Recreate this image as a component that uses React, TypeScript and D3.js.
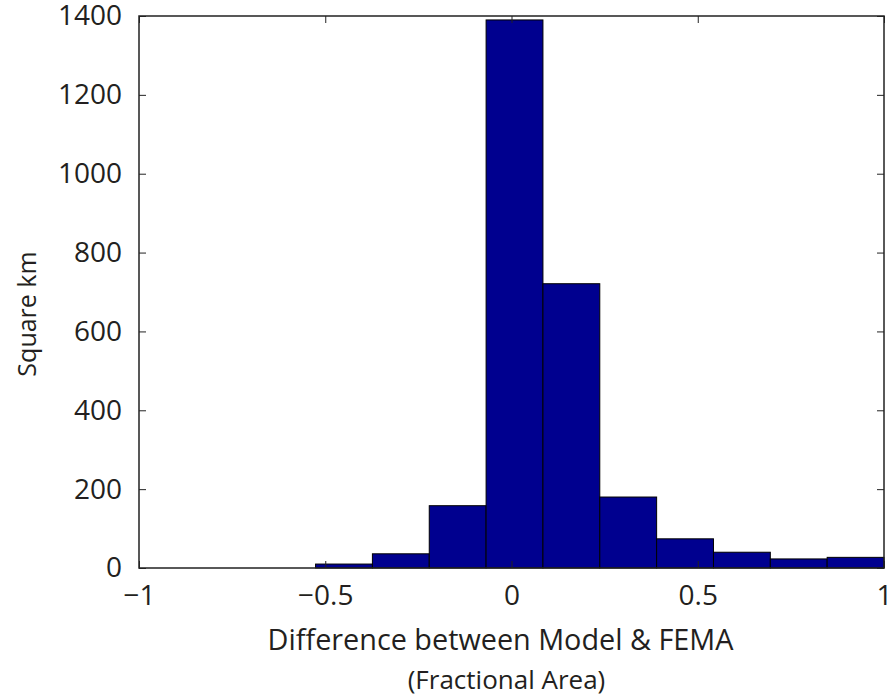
import React, { useEffect, useRef } from 'react';
import * as d3 from 'd3';

// histogram bin edges (fractional area difference) and area per bin
const binEdges = [-0.526, -0.3734, -0.2208, -0.0682, 0.0844, 0.237, 0.3896, 0.5422, 0.6948, 0.8474, 1.0];
const binValues = [10, 36, 158, 1390, 721, 180, 74, 40, 23, 27];
const xTicks = [-1, -0.5, 0, 0.5, 1];
const yTicks = [0, 200, 400, 600, 800, 1000, 1200, 1400];
const xLabelLines = ['Difference between Model & FEMA', '(Fractional Area)'];
const yLabel = 'Square km';

const App = () => {
  const chart = useRef<SVGSVGElement>(null);
  const width = 889;
  const height = 698;
  const margin = { top: 16, right: 5, bottom: 130, left: 139 };
  const font = '"Open Sans", sans-serif';
  const textColor = '#231f20';

  useEffect(() => {
    const svg = d3.select(chart.current);
    svg.selectAll('*').remove();

    const x = d3.scaleLinear()
      .domain([-1, 1])
      .range([margin.left, width - margin.right]);
    const y = d3.scaleLinear()
      .domain([0, 1400])
      .range([height - margin.bottom, margin.top]);

    const data = binValues.map((v, i) => ({ x0: binEdges[i], x1: binEdges[i + 1], v }));

    svg.append('g')
      .selectAll('rect')
      .data(data)
      .join('rect')
      .attr('x', d => x(d.x0))
      .attr('width', d => x(d.x1) - x(d.x0))
      .attr('y', d => y(d.v))
      .attr('height', d => y(0) - y(d.v))
      .attr('fill', '#00008f')
      .attr('stroke', '#000')
      .attr('stroke-width', 1);

    // box
    svg.append('rect')
      .attr('x', x(-1))
      .attr('y', y(1400))
      .attr('width', x(1) - x(-1))
      .attr('height', y(0) - y(1400))
      .attr('fill', 'none')
      .attr('stroke', '#222')
      .attr('stroke-width', 1.5);

    const styleAxis = g => g
      .call(g => g.select('.domain').remove())
      .call(g => g.selectAll('.tick line').attr('stroke', '#222').attr('stroke-width', 1))
      .call(g => g.selectAll('.tick text')
        .attr('font-family', font)
        .attr('font-size', 28)
        .attr('fill', textColor));

    // bottom (ticks inward)
    svg.append('g')
      .attr('transform', `translate(0,${y(0)})`)
      .call(d3.axisBottom(x).tickValues(xTicks).tickSizeInner(-7).tickSizeOuter(0).tickPadding(17)
        .tickFormat(d => d === 0 ? '0' : d3.format('.1~f')(d).replace('-', '\u2212')))
      .call(styleAxis);
    // top ticks
    svg.append('g')
      .attr('transform', `translate(0,${y(1400)})`)
      .call(d3.axisTop(x).tickValues(xTicks).tickSizeInner(-7).tickSizeOuter(0).tickFormat(() => ''))
      .call(styleAxis);
    // left
    svg.append('g')
      .attr('transform', `translate(${x(-1)},0)`)
      .call(d3.axisLeft(y).tickValues(yTicks).tickSizeInner(-7).tickSizeOuter(0).tickPadding(17)
        .tickFormat(d3.format('d')))
      .call(styleAxis);
    // right ticks
    svg.append('g')
      .attr('transform', `translate(${x(1)},0)`)
      .call(d3.axisRight(y).tickValues(yTicks).tickSizeInner(-7).tickSizeOuter(0).tickFormat(() => ''))
      .call(styleAxis);

    const cx = (x(-1) + x(1)) / 2;
    svg.append('g')
      .selectAll('text')
      .data(xLabelLines)
      .join('text')
      .attr('x', (d, i) => i === 0 ? cx - 11 : cx - 5)
      .attr('y', (d, i) => 650 + i * 39)
      .attr('text-anchor', 'middle')
      .attr('font-family', font)
      .attr('font-size', (d, i) => i === 0 ? 28.8 : 26)
      .attr('fill', textColor)
      .text(d => d);

    svg.append('text')
      .attr('transform', `translate(36,${(y(0) + y(1400)) / 2 + 22}) rotate(-90)`)
      .attr('text-anchor', 'middle')
      .attr('font-family', font)
      .attr('font-size', 25)
      .attr('fill', textColor)
      .text(yLabel);
  }, []);

  return (
    <svg
      ref={chart}
      width={width}
      height={height}
      style={{ position: 'absolute', left: 0, top: 0, background: '#fff' }}
    />
  );
};

export default App;
